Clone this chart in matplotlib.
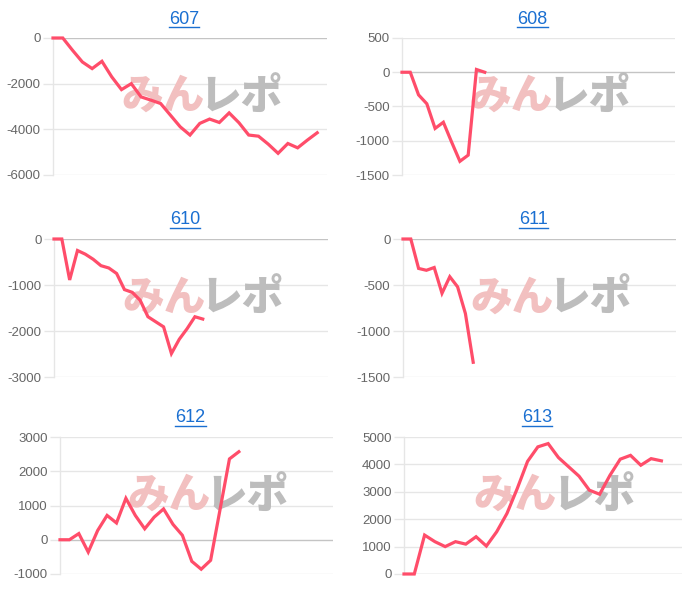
import matplotlib
matplotlib.use("Agg")
import matplotlib.pyplot as plt
from matplotlib.lines import Line2D

plt.rcParams['font.family'] = ['Liberation Sans', 'DejaVu Sans']

titles = ["607", "608", "610", "611", "612", "613"]

v607 = [0, 0, -540, -1050, -1340, -1020, -1700, -2260, -2000, -2580, -2720, -2870,
        -3380, -3890, -4250, -3740, -3550, -3700, -3280, -3710, -4250, -4300,
        -4650, -5050, -4620, -4810, -4470, -4150]
v608 = [0, 0, -330, -460, -820, -730, -1020, -1300, -1210, 40, 0]
v610 = [0, 0, -890, -250, -330, -440, -580, -630, -750, -1100, -1160, -1330,
        -1690, -1800, -1910, -2490, -2180, -1950, -1690, -1740]
v611 = [0, 0, -320, -340, -310, -590, -410, -520, -810, -1340]
v612 = [0, 0, 180, -360, 270, 710, 490, 1210, 710, 320, 660, 900, 450, 130,
        -630, -860, -600, 880, 2360, 2570]
v613 = [0, 0, 1420, 1180, 1000, 1180, 1090, 1360, 1020, 1540, 2210, 3120, 4110,
        4640, 4760, 4250, 3910, 3570, 3060, 2910, 3600, 4190, 4330, 3970, 4210, 4130]

series = [v607, v608, v610, v611, v612, v613]
n_categories = [29, 34, 36, 36, 30, 28]
yticks = [
    [-6000, -4000, -2000, 0],
    [-1500, -1000, -500, 0, 500],
    [-3000, -2000, -1000, 0],
    [-1500, -1000, -500, 0],
    [-1000, 0, 1000, 2000, 3000],
    [0, 1000, 2000, 3000, 4000, 5000],
]

W, H = 700, 594
# axes boxes in pixels: left, right, top, bottom
boxes = [
    (53, 327, 38, 175),
    (402, 675, 38, 175),
    (54, 328, 239, 377),
    (403, 676, 239, 377),
    (60, 333, 437, 574),
    (404, 682, 437, 574),
]
title_y = [19, 19, 220, 220, 418, 418]

LINE = '#ff4d6a'
GRID = '#e6e6e6'
ZERO = '#c4c4c4'
TICKC = '#666666'
TITLEC = '#1a6fd1'

fig = plt.figure(figsize=(7, 5.94), dpi=100)
fig.patch.set_facecolor('white')

title_texts = []
for i, (vals, n, yt, box) in enumerate(zip(series, n_categories, yticks, boxes)):
    l, r, t, b = box
    ax = fig.add_axes([l / W, 1 - b / H, (r - l) / W, (b - t) / H])
    ax.set_facecolor('none')
    x = list(range(len(vals)))
    ax.set_xlim(0, n - 1)
    ax.set_ylim(min(yt), max(yt))
    ax.set_yticks(yt)
    ax.set_yticklabels([str(v) for v in yt])
    ax.set_xticks([])
    for s in ['top', 'right', 'bottom']:
        ax.spines[s].set_visible(False)
    ax.spines['left'].set_color(GRID)
    ax.spines['left'].set_linewidth(1)
    ax.tick_params(axis='y', length=7, width=1, color=GRID, labelcolor=TICKC,
                   labelsize=9.5, pad=2)
    for v in yt:
        ax.axhline(v, color=(ZERO if v == 0 else GRID), lw=1, zorder=0.5)
    for tk, v in zip(ax.yaxis.get_major_ticks(), yt):
        if v == 0:
            tk.tick1line.set_color(ZERO)
    # watermark
    ax.text(0.40, 0.57, "みん", transform=ax.transAxes, ha='center', va='center',
            fontsize=30, fontweight='heavy', color='#f2c0c0',
            family=['Noto Sans CJK JP', 'DejaVu Sans'], zorder=1)
    ax.text(0.685, 0.57, "レポ", transform=ax.transAxes, ha='center', va='center',
            fontsize=30, fontweight='heavy', color='#bdbdbd',
            family=['Noto Sans CJK JP', 'DejaVu Sans'], zorder=1)
    ax.plot(x, vals, color=LINE, lw=2.3, solid_joinstyle='miter', zorder=3,
            clip_on=False)
    cx = ((l + r) / 2 - 6) / W
    tt = fig.text(cx, 1 - title_y[i] / H, titles[i], ha='center', va='center',
                  fontsize=13, color=TITLEC)
    title_texts.append(tt)

fig.canvas.draw()
renderer = fig.canvas.get_renderer()
for tt in title_texts:
    bb = tt.get_window_extent(renderer)
    y = (bb.y0 + 1.0) / H
    fig.add_artist(Line2D([bb.x0 / W, bb.x1 / W], [y, y], color=TITLEC, lw=1.0,
                          transform=fig.transFigure))

fig.savefig('out.png', dpi=100, facecolor='white')
